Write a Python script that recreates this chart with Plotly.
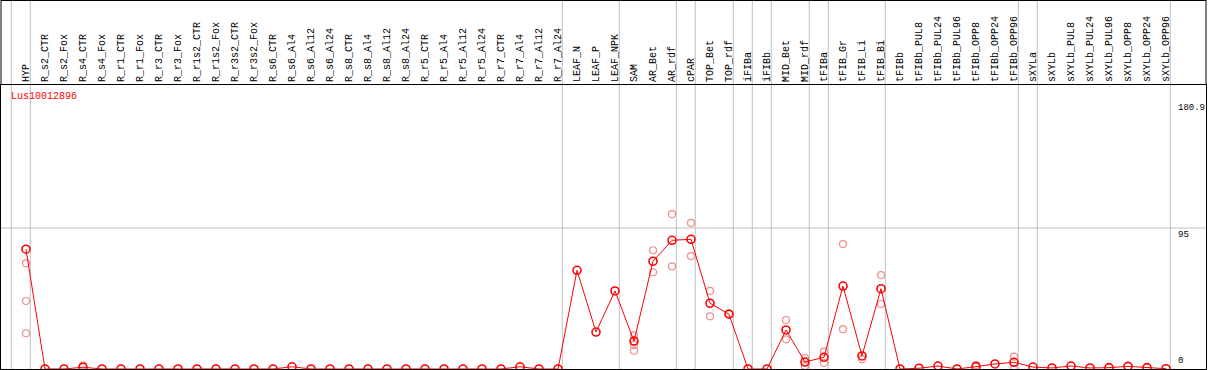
import plotly.graph_objects as go

categories = [
    "HYP", "R_s2_CTR", "R_s2_Fox", "R_s4_CTR", "R_s4_Fox", "R_r1_CTR", "R_r1_Fox",
    "R_r3_CTR", "R_r3_Fox", "R_r1s2_CTR", "R_r1s2_Fox", "R_r3s2_CTR", "R_r3s2_Fox",
    "R_s6_CTR", "R_s6_Al4", "R_s6_Al12", "R_s6_Al24", "R_s8_CTR", "R_s8_Al4",
    "R_s8_Al12", "R_s8_Al24", "R_r5_CTR", "R_r5_Al4", "R_r5_Al12", "R_r5_Al24",
    "R_r7_CTR", "R_r7_Al4", "R_r7_Al12", "R_r7_Al24", "LEAF_N", "LEAF_P", "LEAF_NPK",
    "SAM", "AR_Bet", "AR_rdf", "cPAR", "TOP_Bet", "TOP_rdf", "iFIBa", "iFIBb",
    "MID_Bet", "MID_rdf", "tFIBa", "tFIB_Gr", "tFIB_Li", "tFIB_Bi", "tFIBb",
    "tFIBb_PUL8", "tFIBb_PUL24", "tFIBb_PUL96", "tFIBb_OPP8", "tFIBb_OPP24",
    "tFIBb_OPP96", "sXYLa", "sXYLb", "sXYLb_PUL8", "sXYLb_PUL24", "sXYLb_PUL96",
    "sXYLb_OPP8", "sXYLb_OPP24", "sXYLb_OPP96",
]

mean_vals = [
    80.7, 0, 0, 1.2, 0, 0, 0, 0, 0, 0, 0, 0, 0, 0, 1.5, 0, 0, 0, 0, 0, 0, 0, 0, 0,
    0, 0, 1.5, 0, 0, 66.5, 24.9, 52.6, 18.8, 72.6, 86.7, 87.4, 44.3, 36.9, 0, 0,
    26.3, 4.7, 7.9, 55.9, 8.8, 54.1, 0, 0.5, 2.0, 0, 1.6, 3.4, 4.5, 1.3, 0.7, 2.0,
    0.7, 0.9, 1.8, 0.9, 0.2,
]

rep_cats = [
    "HYP", "HYP", "HYP", "R_s4_CTR", "SAM", "SAM", "SAM", "AR_Bet", "AR_Bet",
    "AR_rdf", "AR_rdf", "cPAR", "cPAR", "TOP_Bet", "TOP_Bet", "TOP_rdf",
    "MID_Bet", "MID_Bet", "MID_rdf", "MID_rdf", "tFIBa", "tFIBa", "tFIB_Gr",
    "tFIB_Gr", "tFIB_Li", "tFIB_Bi", "tFIB_Bi", "tFIBb_OPP8", "tFIBb_OPP96",
    "tFIBb_OPP96",
]
rep_vals = [
    71.2, 45.8, 24.1, 2.5, 22.6, 16.2, 12.3, 80.0, 65.2,
    104.4, 69.2, 98.4, 76.1, 52.6, 35.5, 37.5,
    33.0, 20.0, 7.4, 2.0, 11.7, 4.2, 84.2,
    26.8, 6.5, 63.3, 43.8, 2.7, 8.3,
    0.0,
]

group_ends = ["HYP", "R_r7_Al24", "LEAF_NPK", "AR_rdf", "cPAR", "TOP_rdf", "iFIBa",
              "iFIBb", "MID_rdf", "tFIBa", "tFIB_Bi", "tFIBb_OPP96", "sXYLa", "sXYLb_OPP96"]

y_ticks = [180.9, 95, 0]
gene_label = "Lus10012896"

W, H = 1209, 370
ML, MR, MT, MB = 1, 3, 85, 1
PX0, PX1 = ML, W - MR            # plot area pixel x
PY0, PY1 = MT, H - MB            # plot area pixel y (top, bottom)
X0PIX, STEP = 26.0, 19.0         # pixel of first category, spacing
YMAX = (PY1 - PY0) / (141.0 / 95.0)

idx = {c: i for i, c in enumerate(categories)}
xs = list(range(len(categories)))
rep_x = [idx[c] for c in rep_cats]

def px_to_x(p):
    return (p - X0PIX) / STEP

def py_to_paper(p):
    return (PY1 - p) / (PY1 - PY0)

font_family = "Liberation Mono, DejaVu Sans Mono, monospace"

fig = go.Figure()
fig.add_trace(go.Scatter(
    x=rep_x, y=rep_vals, mode="markers",
    marker=dict(symbol="circle-open", size=7, color="#f08c8c", line=dict(width=1.2, color="#f08c8c")),
    hoverinfo="skip", showlegend=False,
))
fig.add_trace(go.Scatter(
    x=xs, y=mean_vals, mode="lines+markers",
    line=dict(color="#ff0000", width=1),
    marker=dict(symbol="circle-open", size=8, color="#ff0000", line=dict(width=1.6, color="#ff0000")),
    showlegend=False,
))

shapes = []
sep_x = [-1 + 0.226] + [idx[c] + 0.226 for c in group_ends]
for sx in sep_x:
    shapes.append(dict(type="line", xref="x", yref="paper", x0=sx, x1=sx,
                       y0=0, y1=py_to_paper(0), line=dict(color="#c0c0c0", width=1), layer="below"))
shapes.append(dict(type="line", xref="paper", yref="y", x0=0, x1=1, y0=95, y1=95,
                   line=dict(color="#c0c0c0", width=1), layer="below"))
# header frame
shapes.append(dict(type="line", xref="paper", yref="paper", x0=0, x1=1,
                   y0=py_to_paper(0.5), y1=py_to_paper(0.5), line=dict(color="black", width=1)))
shapes.append(dict(type="line", xref="paper", yref="paper", x0=0, x1=0,
                   y0=1, y1=py_to_paper(0), line=dict(color="black", width=1)))
shapes.append(dict(type="line", xref="paper", yref="paper", x0=1, x1=1,
                   y0=1, y1=py_to_paper(0), line=dict(color="black", width=1)))

annotations = []
for v in y_ticks:
    annotations.append(dict(
        x=px_to_x(1176), y=v, xref="x", yref="y", text=str(v), showarrow=False,
        xanchor="left", yanchor="bottom" if v == 0 else "top",
        font=dict(family=font_family, size=9, color="black"),
        yshift=1 if v == 0 else 0,
    ))
annotations.append(dict(
    x=px_to_x(9), y=py_to_paper(89), xref="x", yref="paper", text=gene_label,
    showarrow=False, xanchor="left", yanchor="top",
    font=dict(family=font_family, size=10, color="#ff0000"),
))

fig.update_layout(
    width=W, height=H,
    margin=dict(l=ML, r=MR, t=MT, b=MB, pad=0),
    paper_bgcolor="white", plot_bgcolor="white",
    shapes=shapes, annotations=annotations,
    xaxis=dict(
        range=[px_to_x(PX0), px_to_x(PX1)], side="top",
        tickmode="array", tickvals=xs, ticktext=categories, tickangle=-90,
        ticks="", showgrid=False, zeroline=False, automargin=False,
        showline=True, mirror=True, linecolor="black", linewidth=1,
        tickfont=dict(family=font_family, size=10, color="black"),
    ),
    yaxis=dict(
        range=[0, YMAX], showticklabels=False, ticks="", showgrid=False,
        zeroline=False, automargin=False,
        showline=True, mirror=True, linecolor="black", linewidth=1,
    ),
)

fig.write_html(
    "out.html",
    config={"displayModeBar": False},
    post_script="document.body.style.margin='0';document.body.style.overflow='hidden';",
)
